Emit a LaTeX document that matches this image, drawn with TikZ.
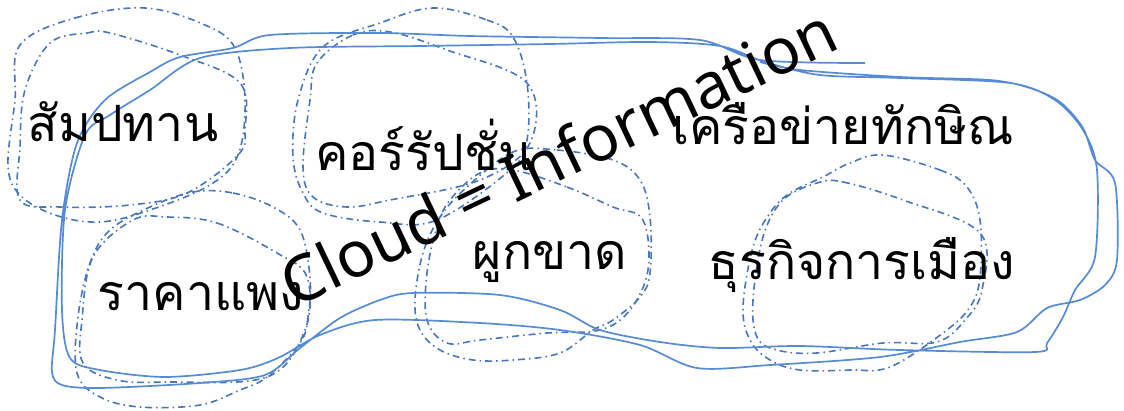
\documentclass[tikz,border=0pt]{standalone}
\usepackage{fontspec}
\setmainfont{Noto Sans}
\newfontfamily\thaifont[Script=Thai]{Loma}
\usetikzlibrary{calc}

\begin{document}
\begin{tikzpicture}[x=1pt, y=-1pt,
    blob/.style={draw=blobblue, line width=1.7pt, line join=round},
    ring/.style={draw=ringblue, line width=1.6pt, dash pattern=on 7pt off 4pt on 1.5pt off 4pt},
    word/.style={font=\thaifont\fontsize{50}{50}\selectfont, inner sep=0pt},
    title/.style={font=\fontsize{64}{64}\selectfont, inner sep=0pt, rotate=25.5}]
        \definecolor{blobblue}{RGB}{86,139,214}
        \definecolor{ringblue}{RGB}{72,118,188}
        \useasboundingbox (0,0) rectangle (1124,410);
        \draw[ring] plot[smooth cycle, tension=0.6] coordinates {(20,45) (75,18) (145,8) (205,25) (235,48) (245,100) (238,155) (210,185) (150,210) (100,222) (55,215) (20,195) (8,165) (15,100)};
        \draw[ring] plot[smooth cycle, tension=0.6] coordinates {(50,43) (87,33) (110,33) (180,55) (240,83) (245,130) (238,155) (187,193) (130,205) (60,207) (20,200) (20,147) (25,90)};
        \draw[ring] plot[smooth cycle, tension=0.6] coordinates {(433,8) (487,20) (513,37) (527,83) (527,140) (510,170) (437,220) (380,222) (323,213) (303,193) (293,157) (298,100) (323,47) (380,23)};
        \draw[ring] plot[smooth cycle, tension=0.6] coordinates {(317,63) (353,35) (390,32) (447,50) (527,83) (530,143) (480,180) (390,200) (347,207) (313,197) (303,167) (310,100)};
        \draw[ring] plot[smooth cycle, tension=0.6] coordinates {(193,192) (233,193) (273,207) (300,230) (310,277) (308,317) (300,343) (267,377) (240,390) (200,405) (140,407) (100,397) (77,373) (78,317) (90,263) (110,230) (150,207)};
        \draw[ring] plot[smooth cycle, tension=0.6] coordinates {(167,217) (217,223) (277,253) (307,277) (305,330) (267,377) (167,382) (117,380) (83,363) (82,320) (93,257) (133,220)};
        \draw[ring] plot[smooth cycle, tension=0.6] coordinates {(513,152) (557,150) (613,160) (640,180) (650,217) (650,273) (640,297) (613,320) (593,330) (560,353) (513,360) (473,360) (440,350) (420,330) (415,300) (423,253) (440,217) (467,187)};
        \draw[ring] plot[smooth cycle, tension=0.6] coordinates {(513,170) (567,187) (613,207) (643,220) (648,270) (630,310) (600,330) (547,333) (480,340) (447,343) (427,320) (427,273) (437,227) (450,200) (480,173)};
        \draw[ring] plot[smooth cycle, tension=0.6] coordinates {(883,155) (940,170) (967,187) (980,220) (980,277) (970,307) (943,333) (890,367) (850,370) (800,370) (770,360) (750,340) (743,307) (753,247) (770,213) (790,193) (823,177) (850,163)};
        \draw[ring] plot[smooth cycle, tension=0.6] coordinates {(817,183) (843,182) (903,200) (980,233) (982,290) (965,320) (937,342) (883,343) (817,353) (777,350) (757,337) (753,300) (763,237) (783,200)};
        \draw[blob] plot[smooth, tension=0.5] coordinates {(865,63) (760,60) (700,40) (600,38) (470,36) (380,33) (270,35) (233,48) (180,57) (150,72) (105,100) (77,143) (62,220) (55,330) (52,372) (62,385) (100,388) (200,383) (265,375) (300,348) (340,318) (380,300) (413,293) (500,295) (560,310) (600,330) (660,342) (720,348) (800,346) (900,350) (1035,352) (1047,343) (1063,317) (1075,290) (1095,257) (1097,170) (1083,130) (1055,100) (1010,83) (900,78) (820,75) (765,62) (720,46) (650,42) (550,44) (420,46) (290,48) (200,58) (150,90) (110,115) (85,135) (65,210) (62,310) (70,358) (100,370) (165,377) (240,370) (278,358) (320,335) (375,320) (480,323) (560,330) (640,345) (697,368) (770,365) (880,357) (960,342) (1017,332) (1047,308) (1080,300) (1105,285) (1117,260) (1115,183) (1095,160) (1083,128) (1060,102) (1030,88) (990,80) (900,77) (800,70) (760,62)};
        \node[word] (concession) at (123,122) {สัมปทาน};
        \node[word] (corruption) at (424,145) {คอร์รัปชั่น};
        \node[word] (network) at (843,124) {เครือข่ายทักษิณ};
        \node[word] (expensive) at (201,297) {ราคาแพง};
        \node[word] (monopoly) at (550,262) {ผูกขาด};
        \node[word] (politics) at (862,265) {ธุรกิจการเมือง};
        \node[title] (cloud) at (558,156) {Cloud = Information};
    \end{tikzpicture}
\end{document}
